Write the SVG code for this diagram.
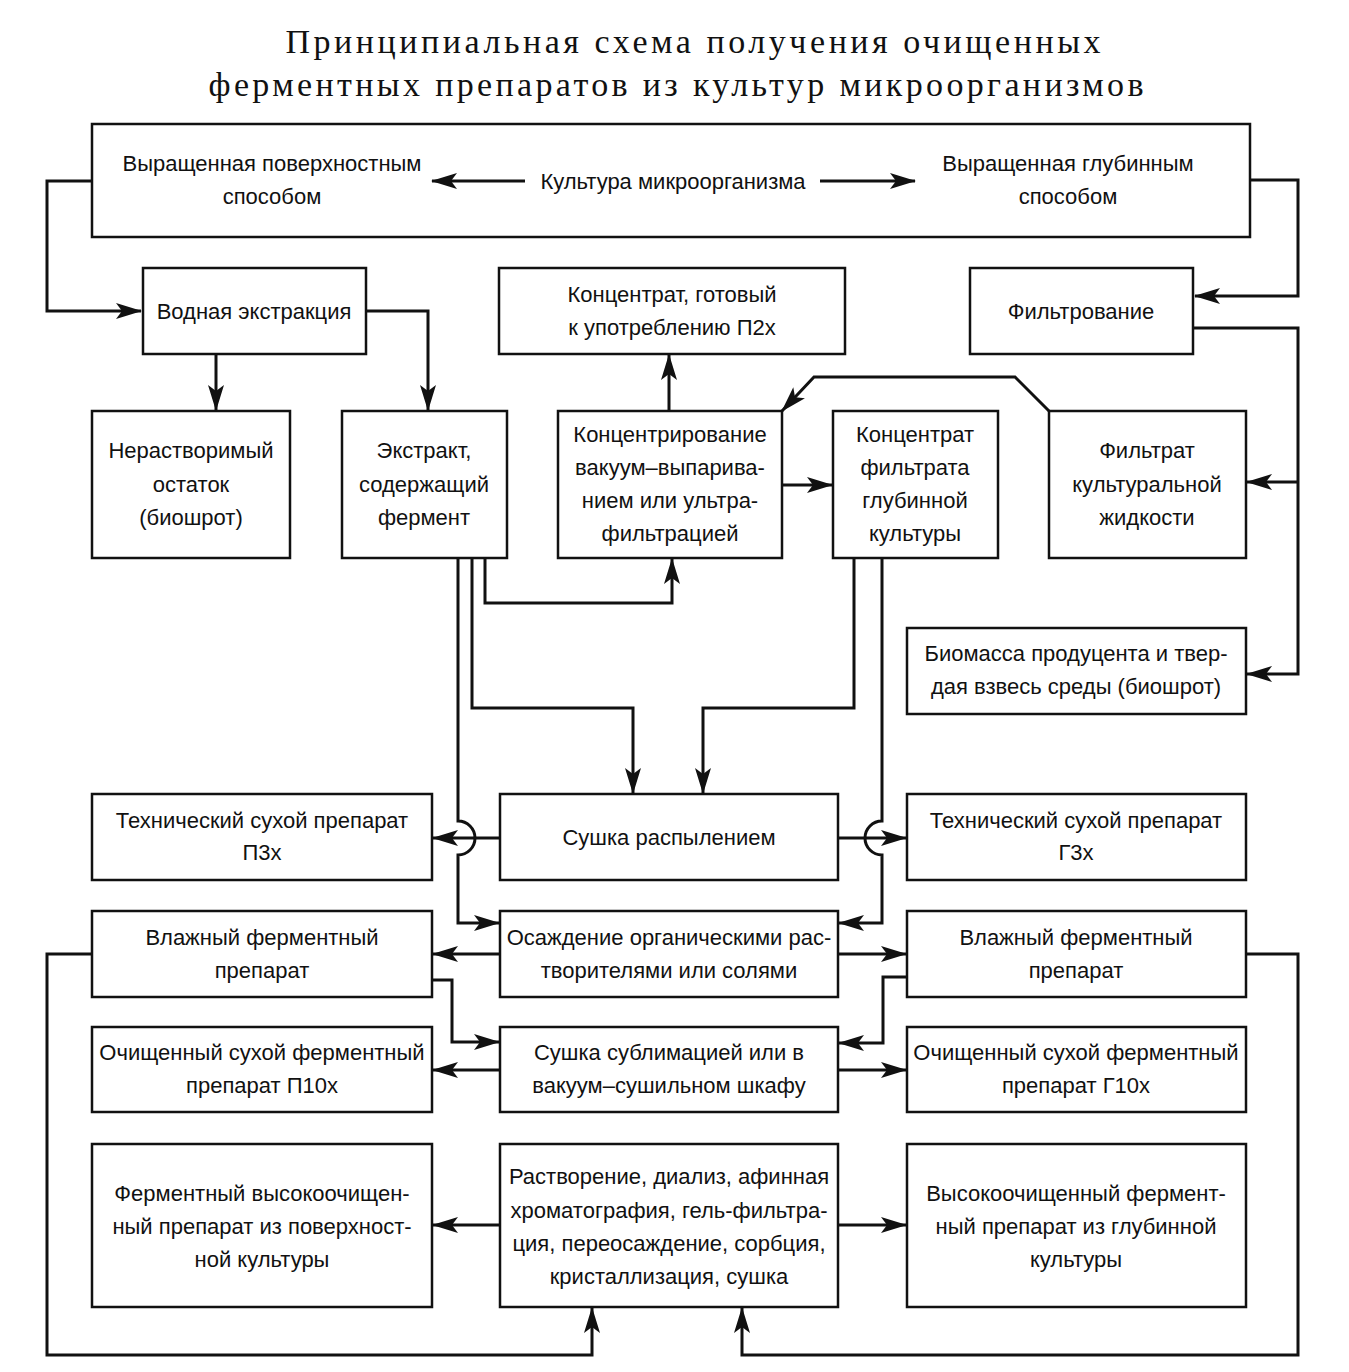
<svg xmlns="http://www.w3.org/2000/svg" width="1349" height="1372" viewBox="0 0 1349 1372">
<style>
.bg{fill:#fff}
.box{fill:#fff;stroke:#111;stroke-width:2.5}
.t{font-family:"Liberation Sans",Arial,sans-serif;font-size:22px;text-anchor:middle;fill:#111}
.title{font-family:"Liberation Serif","Times New Roman",serif;font-size:34px;text-anchor:middle;fill:#111}
.c{fill:none;stroke:#111;stroke-width:3}
.a{marker-end:url(#ah)}
</style>
<defs>
<marker id="ah" markerUnits="userSpaceOnUse" viewBox="0 0 26 16" markerWidth="26" markerHeight="16" refX="25" refY="8" orient="auto">
<path d="M0,0 L26,8 L0,16 L6,8 z" fill="#111"/>
</marker>
</defs>
<rect class="bg" x="0" y="0" width="1349" height="1372"/>
<g id="title">
<text class="title" x="693" y="53" textLength="815" lengthAdjust="spacing">Принципиальная схема получения очищенных</text>
<text class="title" x="676" y="96" textLength="935" lengthAdjust="spacing">ферментных препаратов из культур микроорганизмов</text>
</g>
<g id="n-top">
<rect class="box" x="92" y="124" width="1158" height="113"/>
<text class="t" x="272" y="171">Выращенная поверхностным</text>
<text class="t" x="272" y="204">способом</text>
<text class="t" x="673" y="189">Культура микроорганизма</text>
<text class="t" x="1068" y="171">Выращенная глубинным</text>
<text class="t" x="1068" y="204">способом</text>
</g>
<g id="n-vodn"><rect class="box" x="143" y="268" width="223" height="86"/>
<text class="t" x="254" y="319">Водная экстракция</text></g>
<g id="n-konc2"><rect class="box" x="499" y="268" width="346" height="86"/>
<text class="t" x="672" y="302">Концентрат, готовый</text>
<text class="t" x="672" y="335">к употреблению П2х</text></g>
<g id="n-filtr"><rect class="box" x="970" y="268" width="223" height="86"/>
<text class="t" x="1081" y="319">Фильтрование</text></g>
<g id="n-nerast"><rect class="box" x="92" y="411" width="198" height="147"/>
<text class="t" x="191" y="458">Нерастворимый</text>
<text class="t" x="191" y="492">остаток</text>
<text class="t" x="191" y="525">(биошрот)</text></g>
<g id="n-ekstr"><rect class="box" x="342" y="411" width="165" height="147"/>
<text class="t" x="424" y="458">Экстракт,</text>
<text class="t" x="424" y="492">содержащий</text>
<text class="t" x="424" y="525">фермент</text></g>
<g id="n-koncentr"><rect class="box" x="558" y="411" width="224" height="147"/>
<text class="t" x="670" y="442">Концентрирование</text>
<text class="t" x="670" y="475">вакуум–выпарива-</text>
<text class="t" x="670" y="508">нием или ультра-</text>
<text class="t" x="670" y="541">фильтрацией</text></g>
<g id="n-koncfiltr"><rect class="box" x="833" y="411" width="165" height="147"/>
<text class="t" x="915" y="442">Концентрат</text>
<text class="t" x="915" y="475">фильтрата</text>
<text class="t" x="915" y="508">глубинной</text>
<text class="t" x="915" y="541">культуры</text></g>
<g id="n-filtrat"><rect class="box" x="1049" y="411" width="197" height="147"/>
<text class="t" x="1147" y="458">Фильтрат</text>
<text class="t" x="1147" y="492">культуральной</text>
<text class="t" x="1147" y="525">жидкости</text></g>
<g id="n-biomassa"><rect class="box" x="907" y="628" width="339" height="86"/>
<text class="t" x="1076" y="661">Биомасса продуцента и твер-</text>
<text class="t" x="1076" y="694">дая взвесь среды (биошрот)</text></g>
<g id="n-tech-p3"><rect class="box" x="92" y="794" width="340" height="86"/>
<text class="t" x="262" y="828">Технический сухой препарат</text>
<text class="t" x="262" y="860">П3х</text></g>
<g id="n-sushka"><rect class="box" x="500" y="794" width="338" height="86"/>
<text class="t" x="669" y="845">Сушка распылением</text></g>
<g id="n-tech-g3"><rect class="box" x="907" y="794" width="339" height="86"/>
<text class="t" x="1076" y="828">Технический сухой препарат</text>
<text class="t" x="1076" y="860">Г3х</text></g>
<g id="n-vlazh-l"><rect class="box" x="92" y="911" width="340" height="86"/>
<text class="t" x="262" y="945">Влажный ферментный</text>
<text class="t" x="262" y="978">препарат</text></g>
<g id="n-osazh"><rect class="box" x="500" y="911" width="338" height="86"/>
<text class="t" x="669" y="945">Осаждение органическими рас-</text>
<text class="t" x="669" y="978">творителями или солями</text></g>
<g id="n-vlazh-r"><rect class="box" x="907" y="911" width="339" height="86"/>
<text class="t" x="1076" y="945">Влажный ферментный</text>
<text class="t" x="1076" y="978">препарат</text></g>
<g id="n-och-l"><rect class="box" x="92" y="1027" width="340" height="85"/>
<text class="t" x="262" y="1060">Очищенный сухой ферментный</text>
<text class="t" x="262" y="1093">препарат П10х</text></g>
<g id="n-subl"><rect class="box" x="500" y="1027" width="338" height="85"/>
<text class="t" x="669" y="1060">Сушка сублимацией или в</text>
<text class="t" x="669" y="1093">вакуум–сушильном шкафу</text></g>
<g id="n-och-r"><rect class="box" x="907" y="1027" width="339" height="85"/>
<text class="t" x="1076" y="1060">Очищенный сухой ферментный</text>
<text class="t" x="1076" y="1093">препарат Г10х</text></g>
<g id="n-ferm-l"><rect class="box" x="92" y="1144" width="340" height="163"/>
<text class="t" x="262" y="1201">Ферментный высокоочищен-</text>
<text class="t" x="262" y="1234">ный препарат из поверхност-</text>
<text class="t" x="262" y="1267">ной культуры</text></g>
<g id="n-rastv"><rect class="box" x="500" y="1144" width="338" height="163"/>
<text class="t" x="669" y="1184">Растворение, диализ, афинная</text>
<text class="t" x="669" y="1218">хроматография, гель-фильтра-</text>
<text class="t" x="669" y="1251">ция, переосаждение, сорбция,</text>
<text class="t" x="669" y="1284">кристаллизация, сушка</text></g>
<g id="n-vys-r"><rect class="box" x="907" y="1144" width="339" height="163"/>
<text class="t" x="1076" y="1201">Высокоочищенный фермент-</text>
<text class="t" x="1076" y="1234">ный препарат из глубинной</text>
<text class="t" x="1076" y="1267">культуры</text></g>
<g id="connectors">
<path class="c a" d="M92,181 H47 V311 H141"/>
<path class="c a" d="M1250,180 H1298 V296 H1195"/>
<path class="c a" d="M525,181 H432"/>
<path class="c a" d="M820,181 H915"/>
<path class="c a" d="M216,354 V410"/>
<path class="c a" d="M366,311 H428 V410"/>
<path class="c a" d="M669,411 V355"/>
<path class="c a" d="M782,485 H832"/>
<path class="c a" d="M1049,411 L1015,377 H814 L782,411"/>
<path class="c a" d="M1193,328 H1298 V674 H1247"/>
<path class="c a" d="M1298,482 H1247"/>
<path class="c a" d="M485,558 V603 H672 V559"/>
<path class="c a" d="M472,558 V708 H633 V793"/>
<path class="c a" d="M854,558 V708 H703 V793"/>
<path class="c a" d="M458,558 V821 A17,17 0 0 1 458,855 V923 H499"/>
<path class="c a" d="M882,558 V821 A17,17 0 0 0 882,855 V923 H839"/>
<path class="c a" d="M500,838 H433"/>
<path class="c a" d="M838,838 H906"/>
<path class="c a" d="M500,954 H433"/>
<path class="c a" d="M838,954 H906"/>
<path class="c a" d="M432,980 H452 V1042 H499"/>
<path class="c a" d="M907,977 H883 V1043 H839"/>
<path class="c a" d="M500,1070 H433"/>
<path class="c a" d="M838,1070 H906"/>
<path class="c a" d="M500,1225 H433"/>
<path class="c a" d="M838,1225 H906"/>
<path class="c a" d="M92,954 H47 V1355 H592 V1308"/>
<path class="c a" d="M1246,954 H1298 V1355 H742 V1308"/>
</g>
</svg>
